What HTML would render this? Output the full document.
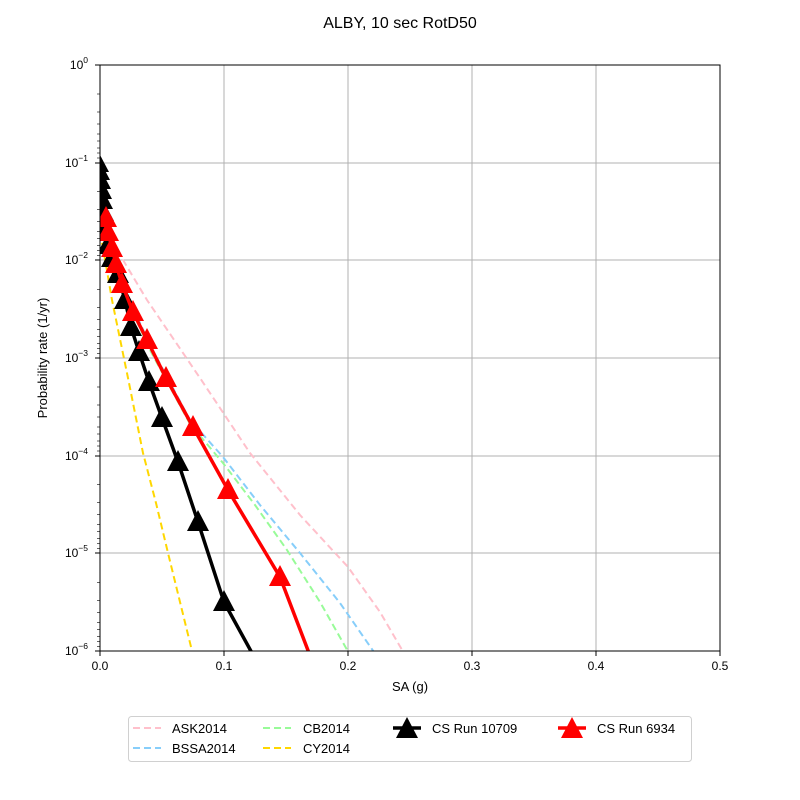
<!DOCTYPE html>
<html><head><style>body{margin:0;background:#fff}svg{display:block;font-family:"Liberation Sans","DejaVu Sans",sans-serif}</style></head>
<body>
<svg width="800" height="800" viewBox="0 0 800 800">
<rect width="800" height="800" fill="#fff"/>
<text x="400" y="28" font-size="16" text-anchor="middle">ALBY, 10 sec RotD50</text>
<g stroke="#b0b0b0" stroke-width="1">
<line x1="224" y1="65" x2="224" y2="651"/><line x1="348" y1="65" x2="348" y2="651"/>
<line x1="472" y1="65" x2="472" y2="651"/><line x1="596" y1="65" x2="596" y2="651"/>
<line x1="100" y1="163" x2="720" y2="163"/><line x1="100" y1="260" x2="720" y2="260"/>
<line x1="100" y1="358" x2="720" y2="358"/><line x1="100" y1="456" x2="720" y2="456"/>
<line x1="100" y1="553" x2="720" y2="553"/>
</g>
<svg x="100" y="65" width="620" height="586" viewBox="100 65 620 586" overflow="hidden">
<g fill="none" stroke-width="2" stroke-dasharray="7,4">
<polyline stroke="#ffc0cb" points="100,222 120,255 147,300 200,378 250,453 300,515 348,567 380,612 405,655"/>
<polyline stroke="#87cefa" points="100,226 125,290 150,345 190,420 223,457 260,505 300,553 340,603 376,655"/>
<polyline stroke="#98fb98" points="100,228 125,295 150,350 190,424 223,463 255,505 287,550 320,602 350,655"/>
<polyline stroke="#ffd700" points="100,232 106,265 112,300 128,378 143,453 156,503 168,553 180,602 193,655"/>
</g>
<polyline fill="none" stroke="#000" stroke-width="3.5" points="98,163 99,172 100,180 101,190 102,200 103,212 105,228 108,245 112,258 118,274 125,300 131,327 139,352 149,382 162,418 178,462 198,522 224,602 252,653"/>
<g fill="#000">
<path id="t" d="M0,-12 L11,9 L-11,9 Z" transform="translate(98,163)"/>
<use href="#t" x="1" y="8"/><use href="#t" x="2" y="17"/><use href="#t" x="3" y="27"/><use href="#t" x="4" y="37"/><use href="#t" x="5" y="49"/>
<use href="#t" x="7" y="65"/><use href="#t" x="10" y="82"/><use href="#t" x="14" y="95"/><use href="#t" x="20" y="111"/>
<use href="#t" x="27" y="137"/><use href="#t" x="33" y="164"/><use href="#t" x="41" y="189"/><use href="#t" x="51" y="219"/>
<use href="#t" x="64" y="255"/><use href="#t" x="80" y="299"/><use href="#t" x="100" y="359"/><use href="#t" x="126" y="439"/>
</g>
<polyline fill="none" stroke="#f00" stroke-width="3.5" points="106,218 108,232 112,248 116,264 122,284 133,312 147,340 166,378 193,427 228,490 280,577 309,653"/>
<g fill="#f00">
<path id="r" d="M0,-12 L11,9 L-11,9 Z" transform="translate(106,218)"/>
<use href="#r" x="2" y="14"/><use href="#r" x="6" y="30"/><use href="#r" x="10" y="46"/><use href="#r" x="16" y="66"/>
<use href="#r" x="27" y="94"/><use href="#r" x="41" y="122"/><use href="#r" x="60" y="160"/><use href="#r" x="87" y="209"/>
<use href="#r" x="122" y="272"/><use href="#r" x="174" y="359"/>
</g>
</svg>
<rect x="100" y="65" width="620" height="586" fill="none" stroke="#000" stroke-width="1"/>
<g stroke="#000" stroke-width="1">
<line x1="100" y1="651" x2="100" y2="656"/><line x1="224" y1="651" x2="224" y2="656"/><line x1="348" y1="651" x2="348" y2="656"/><line x1="472" y1="651" x2="472" y2="656"/><line x1="596" y1="651" x2="596" y2="656"/><line x1="720" y1="651" x2="720" y2="656"/>
<line x1="95" y1="65" x2="100" y2="65"/><line x1="95" y1="163" x2="100" y2="163"/><line x1="95" y1="260" x2="100" y2="260"/><line x1="95" y1="358" x2="100" y2="358"/><line x1="95" y1="456" x2="100" y2="456"/><line x1="95" y1="553" x2="100" y2="553"/><line x1="95" y1="651" x2="100" y2="651"/>
</g>
<g stroke="#000" stroke-width="0.6" id="mt">
<line x1="97" y1="94" x2="100" y2="94"/><line x1="97" y1="112" x2="100" y2="112"/><line x1="97" y1="124" x2="100" y2="124"/><line x1="97" y1="134" x2="100" y2="134"/><line x1="97" y1="141" x2="100" y2="141"/><line x1="97" y1="148" x2="100" y2="148"/><line x1="97" y1="153" x2="100" y2="153"/><line x1="97" y1="158" x2="100" y2="158"/>
</g>
<use href="#mt" y="97.7"/><use href="#mt" y="195.3"/><use href="#mt" y="293"/><use href="#mt" y="390.7"/><use href="#mt" y="488.3"/>
<g font-size="12" text-anchor="middle">
<text x="100" y="670">0.0</text><text x="224" y="670">0.1</text><text x="348" y="670">0.2</text><text x="472" y="670">0.3</text><text x="596" y="670">0.4</text><text x="720" y="670">0.5</text>
<text x="410" y="691" font-size="13">SA (g)</text>
</g>
<g font-size="12" text-anchor="end">
<text x="88" y="69">10<tspan font-size="8.5" dy="-6">0</tspan></text>
<text x="88" y="167">10<tspan font-size="8.5" dy="-6">−1</tspan></text>
<text x="88" y="264">10<tspan font-size="8.5" dy="-6">−2</tspan></text>
<text x="88" y="362">10<tspan font-size="8.5" dy="-6">−3</tspan></text>
<text x="88" y="460">10<tspan font-size="8.5" dy="-6">−4</tspan></text>
<text x="88" y="557">10<tspan font-size="8.5" dy="-6">−5</tspan></text>
<text x="88" y="655">10<tspan font-size="8.5" dy="-6">−6</tspan></text>
</g>
<text transform="translate(47,358) rotate(-90)" font-size="13" text-anchor="middle">Probability rate (1/yr)</text>
<rect x="128.5" y="716.5" width="563" height="45" rx="3" fill="#fff" stroke="#d0d0d0"/>
<g stroke-width="2" stroke-dasharray="7,4">
<line x1="133" y1="728" x2="161" y2="728" stroke="#ffc0cb"/>
<line x1="133" y1="748" x2="161" y2="748" stroke="#87cefa"/>
<line x1="263" y1="728" x2="291" y2="728" stroke="#98fb98"/>
<line x1="263" y1="748" x2="291" y2="748" stroke="#ffd700"/>
</g>
<line x1="393" y1="728" x2="421" y2="728" stroke="#000" stroke-width="3.5"/>
<path d="M407,717 L418,738 L396,738 Z" fill="#000"/>
<line x1="558" y1="728" x2="586" y2="728" stroke="#f00" stroke-width="3.5"/>
<path d="M572,717 L583,738 L561,738 Z" fill="#f00"/>
<g font-size="13">
<text x="172" y="733">ASK2014</text><text x="172" y="753">BSSA2014</text>
<text x="303" y="733">CB2014</text><text x="303" y="753">CY2014</text>
<text x="432" y="733">CS Run 10709</text><text x="597" y="733">CS Run 6934</text>
</g>
</svg>
</body></html>
